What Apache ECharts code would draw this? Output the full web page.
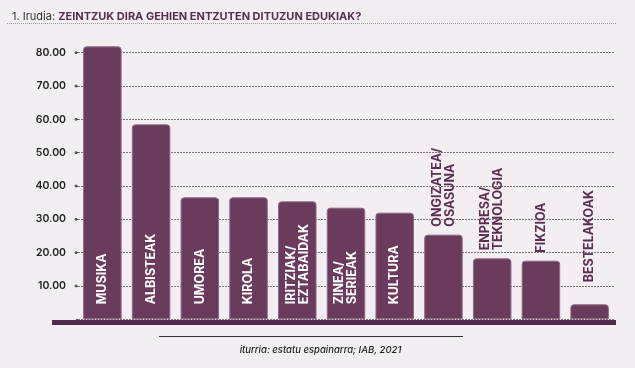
<!DOCTYPE html>
<html>
<head>
<meta charset="utf-8">
<script src="https://cdn.jsdelivr.net/npm/echarts@6/dist/echarts.min.js"></script>
<style>
html,body{margin:0;padding:0;background:#f3eef2;}
#c{width:635px;height:368px;}
</style>
</head>
<body>
<div id="c"></div>
<script>
const categories = ['MUSIKA','ALBISTEAK','UMOREA','KIROLA','IRITZIAK/\nEZTABAIDAK','ZINEA/\nSERIEAK','KULTURA','ONGIZATEA/\nOSASUNA','ENPRESA/\nTEKNOLOGIA','FIKZIOA','BESTELAKOAK'];
const values = [81.9, 58.5, 36.6, 36.6, 35.4, 33.5, 32.0, 25.4, 18.3, 17.6, 4.5];
const yTicks = [0, 80, 10]; // min, max, interval
const titlePrefix = '1. Irudia: ';
const titleText = 'ZEINTZUK DIRA GEHIEN ENTZUTEN DITUZUN EDUKIAK?';
const sourceText = 'iturria: estatu espainarra; IAB, 2021';

const barColor = '#6b3b5d';
const darkText = '#5b2d53';

const data = values.map((v, i) => {
  const inside = v > 30;
  return {
    value: v,
    label: inside ? {
      position: 'insideBottom', distance: 15, color: '#ffffff'
    } : {
      position: 'top', distance: v < 10 ? 22 : 8, color: darkText
    }
  };
});

const chart = echarts.init(document.getElementById('c'), null, {renderer: 'canvas'});
chart.setOption({
  backgroundColor: '#f3eef2',
  animation: false,
  title: {
    left: 7, top: 6,
    text: '{a|' + titlePrefix + '}{b|' + titleText + '}',
    textStyle: {
      rich: {
        a: {fontFamily: 'Inter', fontSize: 11, color: '#333', fontWeight: 'normal'},
        b: {fontFamily: 'Inter', fontSize: 11, color: darkText, fontWeight: 'bold'}
      }
    }
  },
  grid: {left: 78, right: 21, top: 52.7, bottom: 48.7},
  xAxis: {
    type: 'category',
    data: categories,
    axisLine: {show: false},
    axisTick: {show: false},
    axisLabel: {show: false}
  },
  yAxis: {
    type: 'value',
    min: yTicks[0], max: yTicks[1], interval: yTicks[2],
    axisLine: {show: false},
    axisTick: {show: true, length: 2, lineStyle: {color: '#555'}},
    axisLabel: {
      margin: 1,
      formatter: v => v === 0 ? '' : '{v|' + v.toFixed(2) + '}{s|}{c|}',
      rich: {
        v: {fontFamily: 'Inter', fontSize: 10.5, fontWeight: 600, color: '#222'},
        s: {width: 9},
        c: {width: 2, height: 2, borderRadius: 2, borderColor: '#333', borderWidth: 1}
      }
    },
    splitLine: {show: true, lineStyle: {color: '#777', width: 1, type: [2, 1]}}
  },
  series: [{
    type: 'bar',
    data: data,
    barWidth: 38.5,
    clip: false,
    itemStyle: {color: barColor, borderColor: '#8d6a84', borderWidth: 1, borderRadius: [3, 3, 0, 0]},
    label: {
      show: true,
      formatter: p => categories[p.dataIndex],
      rotate: 90,
      align: 'left',
      verticalAlign: 'middle',
      fontFamily: 'Inter',
      fontWeight: 'bold',
      fontSize: 12.5,
      lineHeight: 13
    }
  }],
  graphic: [
    {type: 'line', shape: {x1: 7, y1: 23.5, x2: 617, y2: 23.5}, style: {stroke: '#999', lineWidth: 1, lineDash: [1, 1]}},
    {type: 'rect', shape: {x: 52, y: 320, width: 564, height: 5}, style: {fill: '#4f2a4a'}, z: 10},
    {type: 'line', shape: {x1: 159, y1: 336.5, x2: 463, y2: 336.5}, style: {stroke: '#333', lineWidth: 1}},
    {type: 'text', x: 320.5, y: 350, style: {text: sourceText, textAlign: 'center', textVerticalAlign: 'middle', font: 'italic 500 9.5px Inter', fill: '#222'}}
  ]
});
</script>
</body>
</html>
